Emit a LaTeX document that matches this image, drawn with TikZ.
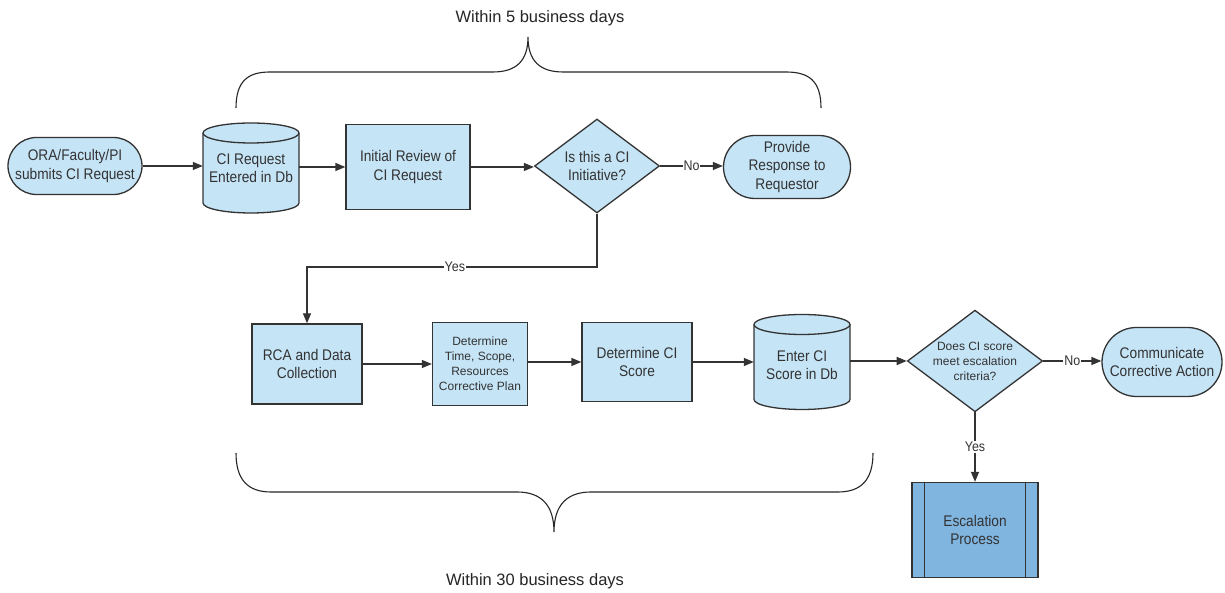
\documentclass[tikz,border=0pt]{standalone}
\usepackage{fontspec}
\setmainfont{Liberation Sans}
\newfontfamily\boxfont{Liberation Sans}[FakeStretch=0.89]
\usetikzlibrary{shapes.geometric,arrows.meta}
\definecolor{cifill}{RGB}{197,228,246}
\definecolor{escfill}{RGB}{128,181,224}
\definecolor{lineclr}{RGB}{51,51,51}
\definecolor{txtclr}{RGB}{51,51,51}
\tikzset{
  shapeline/.style={draw=lineclr, line width=1.3pt, fill=cifill},
  base/.style={text=txtclr, align=center, inner sep=0pt,
    font=\boxfont\fontsize{15.4}{18.5}\selectfont},
  smalltext/.style={font=\fontsize{12}{15}\selectfont},
  procbox/.style={base, shapeline, rectangle},
  term/.style={base, shapeline, rectangle, rounded corners=#1},
  decision/.style={base, shapeline, diamond, aspect=1.33},
  dbnode/.style={base, rectangle, draw=none, fill=none},
  arr/.style={draw=lineclr, line width=1.3pt, -{Triangle[length=10pt,width=8pt]}},
  lbl/.style={base, fill=white, inner sep=1pt, font=\boxfont\fontsize{14}{16}\selectfont},
  bracestyle/.style={draw=black!85, line width=1.1pt},
  bracelbl/.style={text=black!85, font=\fontsize{16.5}{19}\selectfont}
}
% cylinder: center x, center y, width, height, ellipse y radius
\newcommand{\dbshape}[5]{%
  \path[shapeline] (#1-#3/2, #2+#4/2-#5) -- (#1-#3/2, #2-#4/2+#5)
    arc[start angle=180, end angle=360, x radius=#3/2*1pt, y radius=#5*1pt]
    -- (#1+#3/2, #2+#4/2-#5)
    arc[start angle=0, end angle=180, x radius=#3/2*1pt, y radius=#5*1pt] -- cycle;
  \draw[draw=lineclr, line width=1.3pt] (#1-#3/2, #2+#4/2-#5)
    arc[start angle=180, end angle=360, x radius=#3/2*1pt, y radius=#5*1pt];
}
\begin{document}
\begin{tikzpicture}[x=1pt,y=1pt]
\useasboundingbox[fill=white] (0,0) rectangle (1225,593);

% braces
\draw[bracestyle] (236,485) .. controls (236,512) and (248,521) .. (270,521)
  -- (493,521) .. controls (516,521) and (528,532) .. (528,556)
  .. controls (528,532) and (540,521) .. (563,521)
  -- (786,521) .. controls (809,521) and (821,512) .. (821,485);
\node[bracelbl] (toplbl) at (540,575) {Within 5 business days};

\draw[bracestyle] (236,140) .. controls (236,113) and (248,101) .. (271,101)
  -- (517,101) .. controls (541,101) and (554,88) .. (554,61)
  .. controls (554,88) and (567,101) .. (591,101)
  -- (838,101) .. controls (861,101) and (873,113) .. (873,140);
\node[bracelbl] (botlbl) at (535,12) {Within 30 business days};

% row 1
\node[term=28.5pt, minimum width=134pt, minimum height=57pt] (start) at (75,427)
  {ORA/Faculty/PI\\submits CI Request};
\dbshape{251}{425}{96}{90}{10}
\node[dbnode, minimum width=96pt, minimum height=90pt] (db1) at (251,425)
  {CI Request\\Entered in Db};
\node[procbox, minimum width=124pt, minimum height=85pt] (rev) at (408,426)
  {Initial Review of\\CI Request};
\node[decision, minimum width=125pt, minimum height=94pt] (d1) at (597,427)
  {Is this a CI\\Initiative?};
\node[term=31.5pt, minimum width=127pt, minimum height=63pt] (resp) at (787,426)
  {Provide\\Response to\\Requestor};

% row 2
\node[procbox, minimum width=110pt, minimum height=80pt] (rca) at (307,229)
  {RCA and Data\\Collection};
\node[procbox, smalltext, minimum width=95pt, minimum height=83pt] (time) at (480,229)
  {Determine\\Time, Scope,\\Resources\\Corrective Plan};
\node[procbox, minimum width=110pt, minimum height=79pt] (score) at (637,231)
  {Determine CI\\Score};
\dbshape{802}{231}{96}{95}{10}
\node[dbnode, minimum width=96pt, minimum height=95pt] (db2) at (802,228)
  {Enter CI\\Score in Db};
\node[decision, smalltext, minimum width=126pt, minimum height=99pt] (d2) at (975,232)
  {Does CI score\\meet escalation\\criteria?};
\node[term=34.5pt, minimum width=120pt, minimum height=69pt] (comm) at (1162,231)
  {Communicate\\Corrective Action};
\node[procbox, fill=escfill, minimum width=126pt, minimum height=95pt] (esc) at (975,63)
  {Escalation\\Process};
\draw[draw=lineclr, line width=1.3pt] ([xshift=13pt]esc.north west) -- ([xshift=13pt]esc.south west);
\draw[draw=lineclr, line width=1.3pt] ([xshift=-13pt]esc.north east) -- ([xshift=-13pt]esc.south east);

% connectors
\draw[arr] (start.east) -- (start.east -| db1.west);
\draw[arr] (db1.east |- rev.west) -- (rev.west);
\draw[arr] (rev.east) -- (rev.east -| d1.west);
\draw[arr] (d1.east) -- node[lbl]{No} (d1.east -| resp.west);
\draw[arr] (d1.south) |- node[lbl, pos=0.745]{Yes} (rca.north |- 0,326) -- (rca.north);
\draw[arr] (rca.east) -- (rca.east -| time.west);
\draw[arr] (time.east |- score.west) -- (score.west);
\draw[arr] (score.east) -- (score.east -| db2.west);
\draw[arr] (db2.east |- d2.west) -- (d2.west);
\draw[arr] (d2.east) -- node[lbl]{No} (d2.east -| comm.west);
\draw[arr] (d2.south) -- node[lbl]{Yes} (esc.north);
\end{tikzpicture}
\end{document}
